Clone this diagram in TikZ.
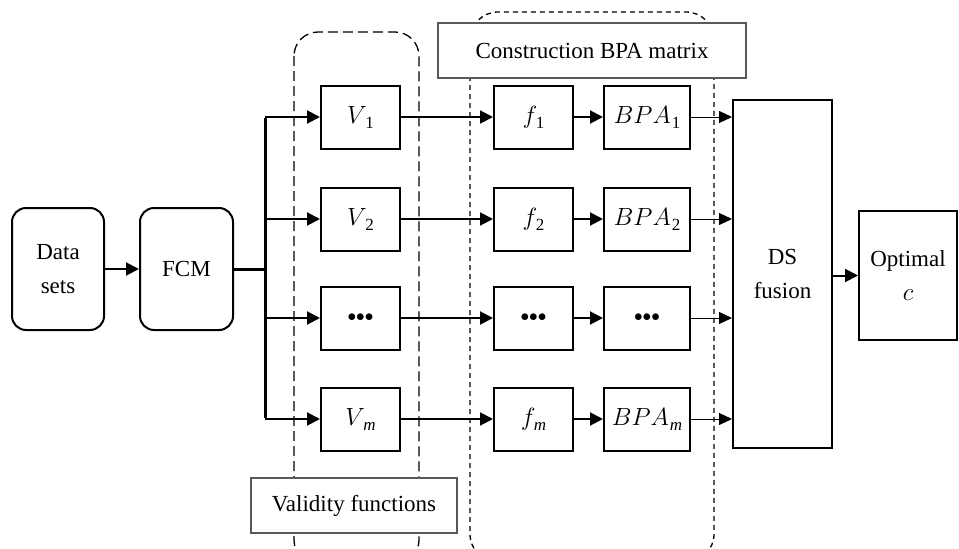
\documentclass[tikz,border=0pt]{standalone}
\usepackage{fontspec}
\setmainfont{Liberation Serif}
\usetikzlibrary{arrows.meta}
\newcommand{\mydots}{$\scriptstyle\bullet\bullet\bullet$}
\newcommand{\sbx}[2][-1.5pt]{\kern#1\raisebox{-5pt}{\fontsize{17}{17}\selectfont #2}}
\begin{document}
\begin{tikzpicture}[x=1pt,y=-1pt, font=\fontsize{23}{34}\selectfont,
  box/.style={draw, line width=2pt, inner sep=0pt, align=center},
  rbox/.style={box, rounded corners=14pt},
  vbox/.style={box, minimum width=79, minimum height=63},
  bbox/.style={box, minimum width=86, minimum height=63},
  lab/.style={draw=black!65, line width=1.3pt, fill=white, inner sep=0pt},
  arr/.style={line width=2pt, -{Triangle[length=13pt,width=13pt]}},
  tarr/.style={line width=1pt, -{Triangle[length=13pt,width=12pt]}},
  reg1/.style={line width=1.3pt, dash pattern=on 10pt off 5pt, rounded corners=24pt},
  reg2/.style={line width=1.3pt, dash pattern=on 5pt off 4pt, rounded corners=28pt}]
\useasboundingbox (0,0) rectangle (959,549);
% dashed regions
\draw[reg1] (294,32) rectangle (419,564);
\draw[reg2] (470,12) rectangle (714,562);
% labels
\node[lab, minimum width=308, minimum height=55] (cl) at (592,50.5) {Construction BPA matrix};
\node[lab, minimum width=206, minimum height=55] (vl) at (354,505.5) {Validity functions};
% main nodes
\node[rbox, minimum width=92, minimum height=122] (data) at (58,269) {Data\\sets};
\node[rbox, minimum width=93, minimum height=122] (fcm) at (186.5,269) {FCM};
\node[vbox] (v1) at (360.5,117) {$V$\sbx{1}};
\node[vbox] (v2) at (360.5,219) {$V$\sbx{2}};
\node[vbox] (v3) at (360.5,318) {\mydots};
\node[vbox] (v4) at (360.5,419) {$V$\sbx{\textit{m}}};
\node[vbox] (f1) at (533.5,117) {$f$\sbx{1}};
\node[vbox] (f2) at (533.5,219) {$f$\sbx{2}};
\node[vbox] (f3) at (533.5,318) {\mydots};
\node[vbox] (f4) at (533.5,419) {$f$\sbx{\textit{m}}};
\node[bbox] (b1) at (647,117) {$BPA$\sbx[1pt]{1}};
\node[bbox] (b2) at (647,219) {$BPA$\sbx[1pt]{2}};
\node[bbox] (b3) at (647,318) {\mydots};
\node[bbox] (b4) at (647,419) {$BPA$\sbx[1pt]{\textit{m}}};
\node[box, minimum width=99, minimum height=348] (ds) at (782.5,274) {DS\\fusion};
\node[box, minimum width=98, minimum height=129] (opt) at (908,275.5) {Optimal\\$c$};
% bus
\coordinate (bt) at (265,117);
\coordinate (bb) at (265,419);
\draw[arr] (data) -- (fcm);
\draw[line width=3pt] (fcm.east) -- (fcm.east -| bt);
\draw[line width=3pt] ([yshift=-1pt]bt) -- ([yshift=1pt]bb);
\foreach \i in {1,2,3,4}{
  \draw[arr] (v\i.west -| bt) -- (v\i.west);
  \draw[arr] (v\i) -- (f\i);
  \draw[arr] (f\i) -- (b\i);
  \draw[tarr] (b\i.east) -- (b\i.east -| ds.west);
}
\draw[arr] (ds.east |- opt.west) -- (opt.west);
\end{tikzpicture}
\end{document}
